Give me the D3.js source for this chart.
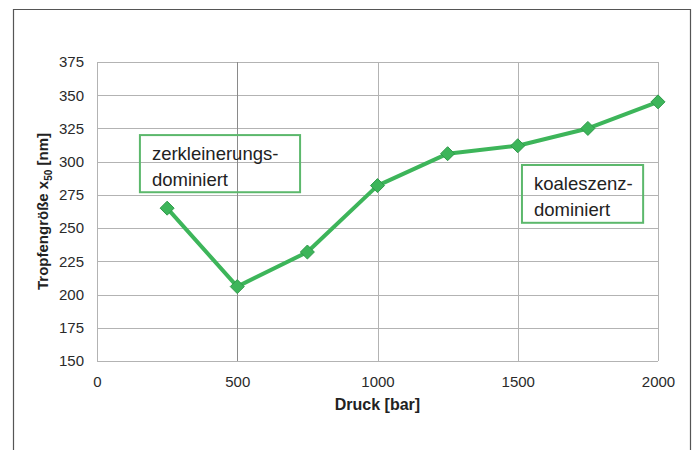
<!DOCTYPE html>
<html>
<head>
<meta charset="utf-8">
<script src="https://cdn.jsdelivr.net/npm/d3@7"></script>
<style>
	body { margin: 0; background: #fff; }
	svg { display: block; font-family: 'Liberation Sans', Arial, sans-serif; }
</style>
</head>
<body>
<div id="chart"></div>
<script>
// pressure [bar] and droplet size x50 [nm]
const pressure = [250, 500, 750, 1000, 1250, 1500, 1750, 2000]
const dropSize = [265, 206, 232, 282, 306, 312, 325, 345]
const xTicks = [0, 500, 1000, 1500, 2000]
const yTicks = [150, 175, 200, 225, 250, 275, 300, 325, 350, 375]
const notes = [
	{ lines: ['zerkleinerungs-', 'dominiert'], x0: 153, x1: 724, y0: 320, y1: 277 },
	{ lines: ['koaleszenz-', 'dominiert'], x0: 1515, x1: 1947, y0: 297.5, y1: 254 },
]

const width = 697
const height = 450
const margin = { left: 97, right: 39, top: 62, bottom: 89 }
const green = '#3db55a'

const svg = d3.select('#chart').append('svg').attr('width', width).attr('height', height)

// outer frame (left, top, right)
svg.append('path')
	.attr('d', `M13.5,${height} V9.5 H690.5 V${height}`)
	.attr('fill', 'none')
	.attr('stroke', '#555')
	.attr('stroke-width', 1.2)

const x = d3.scaleLinear().domain([0, 2000]).range([margin.left, width - margin.right])
const y = d3.scaleLinear().domain([150, 375]).range([height - margin.bottom, margin.top])

// grid
svg.append('g')
	.selectAll('line')
	.data(yTicks)
	.join('line')
	.attr('x1', x(0)).attr('x2', x(2000))
	.attr('y1', d => Math.round(y(d)) + 0.5).attr('y2', d => Math.round(y(d)) + 0.5)
	.attr('stroke', '#b3b3b3')

svg.append('g')
	.selectAll('line')
	.data(xTicks)
	.join('line')
	.attr('x1', d => Math.round(x(d)) + 0.5).attr('x2', d => Math.round(x(d)) + 0.5)
	.attr('y1', y(150)).attr('y2', y(375))
	.attr('stroke', (d, i) => (i === 1 ? '#8a8a8a' : '#b3b3b3'))

// axes labels
const yAxis = svg.append('g')
	.attr('transform', `translate(${x(0) - 9},0)`)
	.call(d3.axisLeft(y).tickValues(yTicks).tickSize(0).tickPadding(4))
yAxis.select('.domain').remove()
yAxis.selectAll('text').attr('font-size', 15).attr('fill', '#2a2a2a').attr('font-family', 'Liberation Sans, Arial')

const xAxis = svg.append('g')
	.attr('transform', `translate(0,${y(150) + 12})`)
	.call(d3.axisBottom(x).tickValues(xTicks).tickSize(0).tickFormat(d3.format('d')))
xAxis.select('.domain').remove()
xAxis.selectAll('text').attr('font-size', 15).attr('fill', '#2a2a2a').attr('font-family', 'Liberation Sans, Arial')

svg.append('text')
	.attr('x', (x(0) + x(2000)) / 2)
	.attr('y', 410)
	.attr('text-anchor', 'middle')
	.attr('font-size', 16)
	.attr('font-weight', 'bold')
	.attr('fill', '#222')
	.text('Druck [bar]')

const yTitle = svg.append('text')
	.attr('transform', `translate(48,${(y(150) + y(375)) / 2}) rotate(-90)`)
	.attr('text-anchor', 'middle')
	.attr('font-size', 15)
	.attr('font-weight', 'bold')
	.attr('fill', '#222')
yTitle.append('tspan').text('Tropfengröße x')
yTitle.append('tspan').attr('font-size', 10).attr('dy', 4).text('50')
yTitle.append('tspan').attr('dy', -4).text(' [nm]')

// annotation boxes (transparent, grid shows through)
const note = svg.append('g')
	.selectAll('g')
	.data(notes)
	.join('g')
note.append('rect')
	.attr('x', d => x(d.x0))
	.attr('y', d => y(d.y0))
	.attr('width', d => x(d.x1) - x(d.x0))
	.attr('height', d => y(d.y1) - y(d.y0))
	.attr('fill', 'none')
	.attr('stroke', '#5cb86c')
	.attr('stroke-width', 2)
note.each(function (d) {
	const t = d3.select(this).append('text')
		.attr('font-size', 18.5)
		.attr('fill', '#222')
	d.lines.forEach((s, i) => {
		t.append('tspan')
			.attr('x', x(d.x0) + 12)
			.attr('y', y(d.y0) + 25 + i * 26)
			.text(s)
	})
})

// series
const line = d3.line().x(d => x(d[0])).y(d => y(d[1]))
const pts = pressure.map((p, i) => [p, dropSize[i]])

svg.append('path')
	.datum(pts)
	.attr('d', line)
	.attr('fill', 'none')
	.attr('stroke', green)
	.attr('stroke-width', 4)
	.attr('stroke-linejoin', 'round')

svg.append('g')
	.selectAll('path')
	.data(pts)
	.join('path')
	.attr('transform', d => `translate(${x(d[0])},${y(d[1])})`)
	.attr('d', 'M0,-7 L7,0 L0,7 L-7,0 Z')
	.attr('fill', green)
	.attr('stroke', '#2f9a4a')
	.attr('stroke-width', 1)
</script>
</body>
</html>
